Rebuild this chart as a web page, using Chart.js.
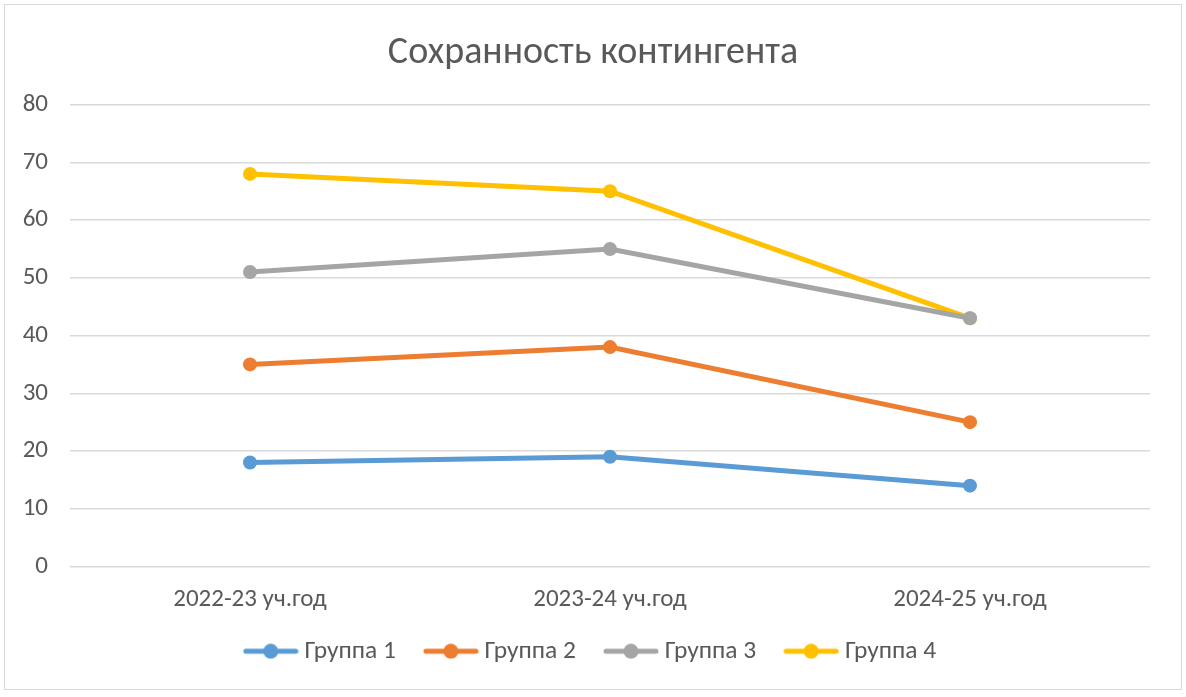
<!DOCTYPE html>
<html>
<head>
<meta charset="utf-8">
<script src="https://cdn.jsdelivr.net/npm/chart.js@4"></script>
<style>
  html, body { margin: 0; padding: 0; background: #fff; }
  #wrap { position: absolute; left: 4px; top: 4px; width: 1176px; height: 684px; border: 1px solid #d9d9d9; }
</style>
</head>
<body>
<div id="wrap"><canvas id="chart"></canvas></div>
<script>
const years = ['2022-23 уч.год', '2023-24 уч.год', '2024-25 уч.год'];
const group1 = [18, 19, 14];
const group2 = [35, 38, 25];
const group3 = [51, 55, 43];
const group4 = [68, 65, 43];
const groupNames = ['Группа 1', 'Группа 2', 'Группа 3', 'Группа 4'];
const colors = ['#5B9BD5', '#ED7D31', '#A5A5A5', '#FFC000'];

const FONT = 'Carlito, Calibri, "Noto Sans", sans-serif';

// legend marker: line with a dot in the middle, like Excel
function legendMarker(color) {
    const c = document.createElement('canvas');
    c.width = 56; c.height = 16;
    const g = c.getContext('2d');
    g.strokeStyle = color;
    g.lineWidth = 5;
    g.lineCap = 'round';
    g.beginPath(); g.moveTo(3, 8); g.lineTo(53, 8); g.stroke();
    g.fillStyle = color;
    g.beginPath(); g.arc(28, 8, 7.5, 0, Math.PI * 2); g.fill();
    return c;
}

const series = [group1, group2, group3, group4];

new Chart(document.getElementById('chart'), {
    type: 'line',
    data: {
        labels: years,
        datasets: series.map((d, i) => ({
            label: groupNames[i],
            data: d,
            borderColor: colors[i],
            backgroundColor: colors[i],
            borderWidth: 5,
            pointRadius: 7,
            pointHoverRadius: 7,
            pointBorderWidth: 0,
            tension: 0
        }))
    },
    options: {
        responsive: true,
        maintainAspectRatio: false,
        animation: false,
        layout: { padding: { left: 0, right: 0, top: 0, bottom: 15 } },
        plugins: {
            title: {
                display: true,
                text: 'Сохранность контингента',
                color: '#595959',
                font: { family: FONT, size: 38, weight: 'normal' },
                padding: { top: 26, bottom: 28 }
            },
            legend: {
                position: 'bottom',
                labels: {
                    usePointStyle: true,
                    pointStyleWidth: 42,
                    color: '#595959',
                    font: { family: FONT, size: 25.5 },
                    padding: 34,
                    generateLabels: chart => chart.data.datasets.map((ds, i) => ({
                        text: ds.label,
                        fontColor: '#595959',
                        pointStyle: legendMarker(colors[i]),
                        datasetIndex: i,
                        lineWidth: 0,
                        strokeStyle: 'transparent',
                        fillStyle: colors[i]
                    }))
                }
            },
            tooltip: { enabled: false }
        },
        scales: {
            x: {
                offset: true,
                grid: { display: false },
                border: { display: false },
                ticks: { color: '#595959', font: { family: FONT, size: 25 }, padding: 10 },
                afterFit: s => {
                    s.height = 38;
                    // labels hang into the legend's empty top padding, so don't clip them
                    s._computeLabelArea = () => undefined;
                }
            },
            y: {
                min: 0,
                max: 80,
                ticks: { stepSize: 10, color: '#595959', font: { family: FONT, size: 25 }, padding: 22 },
                grid: { color: '#D9D9D9', lineWidth: 1.5, drawTicks: false },
                border: { display: false },
                afterFit: s => { s.width = 65; }
            },
            // empty right margin so title and legend stay centred on the canvas
            spacer: {
                type: 'linear',
                position: 'right',
                grid: { display: false },
                border: { display: false },
                ticks: { display: false },
                afterFit: s => { s.width = 31; }
            }
        }
    }
});
</script>
</body>
</html>
